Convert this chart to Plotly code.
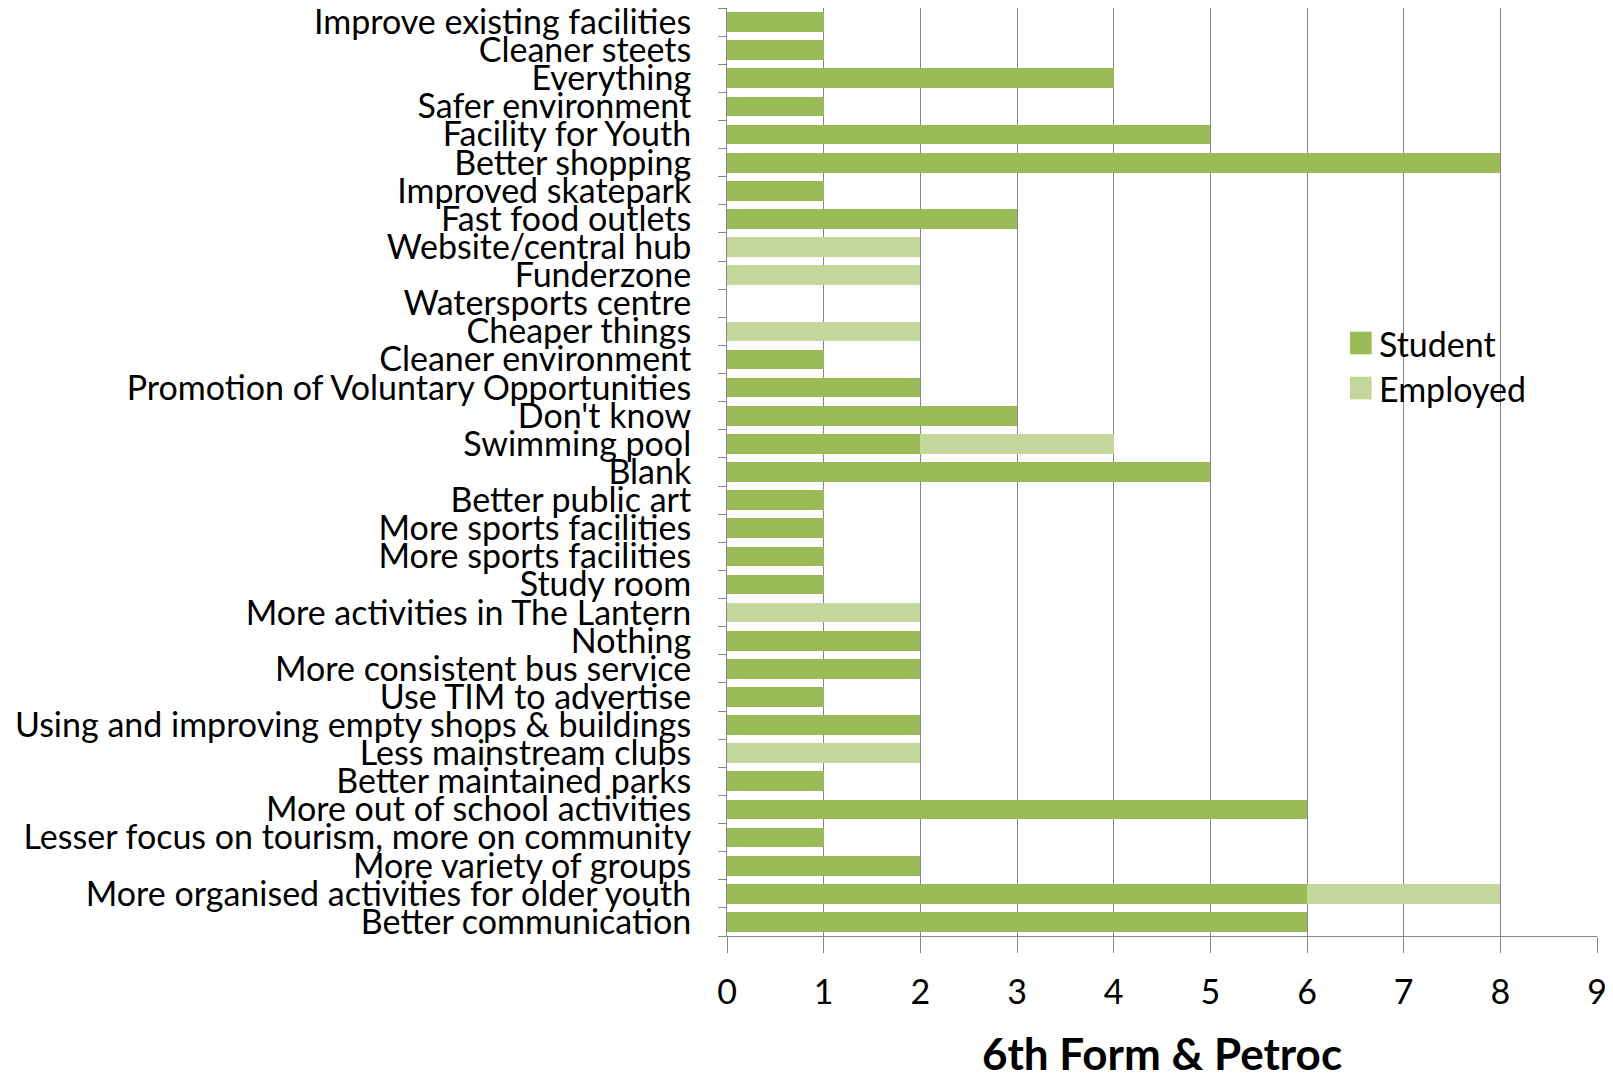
import plotly.graph_objects as go

categories = [
    "Improve existing facilities", "Cleaner steets", "Everything", "Safer environment",
    "Facility for Youth", "Better shopping", "Improved skatepark", "Fast food outlets",
    "Website/central hub", "Funderzone", "Watersports centre", "Cheaper things",
    "Cleaner environment", "Promotion of Voluntary Opportunities", "Don't know",
    "Swimming pool", "Blank", "Better public art", "More sports facilities",
    "More sports facilities", "Study room", "More activities in The Lantern", "Nothing",
    "More consistent bus service", "Use TIM to advertise",
    "Using and improving empty shops & buildings", "Less mainstream clubs",
    "Better maintained parks", "More out of school activities",
    "Lesser focus on tourism, more on community", "More variety of groups",
    "More organised activities for older youth", "Better communication",
]
student = [1, 1, 4, 1, 5, 8, 1, 3, 0, 0, 0, 0, 1, 2, 3, 2, 5, 1, 1, 1, 1, 0, 2, 2, 1, 2, 0, 1, 6, 1, 2, 6, 6]
employed = [0, 0, 0, 0, 0, 0, 0, 0, 2, 2, 0, 2, 0, 0, 0, 2, 0, 0, 0, 0, 0, 2, 0, 0, 0, 0, 2, 0, 0, 0, 0, 2, 0]
x_ticks = list(range(0, 10))
axis_title = "6th Form & Petroc"
series_names = ["Student", "Employed"]
series_colors = ["#9BBB59", "#C3D69B"]

positions = list(range(len(categories)))

FONT = "Lato"
GRID = "#878787"

fig = go.Figure()
for name, vals, col in zip(series_names, [student, employed], series_colors):
    fig.add_trace(go.Bar(y=positions, x=vals, orientation="h", name=name,
                         marker=dict(color=col, line=dict(width=0)), showlegend=False))

# legend drawn as large swatches (like the original)
legend_y = [0.639, 0.5905]
for name, col, yc in zip(series_names, series_colors, legend_y):
    fig.add_shape(type="rect", xref="paper", yref="paper",
                  x0=0.716, x1=0.741, y0=yc - 0.0122, y1=yc + 0.0122,
                  fillcolor=col, line=dict(width=0))
    fig.add_annotation(xref="paper", yref="paper", x=0.747, y=yc, text=name,
                       xanchor="left", yanchor="middle", showarrow=False,
                       font=dict(size=34, family=FONT, color="black"))

# the page body has an 8px default margin, so the figure is sized to fit the window
fig.update_layout(
    width=1605, height=1071,
    barmode="stack", bargap=0.3,
    paper_bgcolor="white", plot_bgcolor="white",
    margin=dict(l=719, r=16, t=0, b=143),
    font=dict(family=FONT, color="black"),
    showlegend=False,
)
fig.update_xaxes(
    range=[0, 9], tickvals=x_ticks, ticktext=[str(v) for v in x_ticks],
    showgrid=True, gridcolor=GRID, gridwidth=1,
    showline=True, linecolor=GRID, linewidth=1,
    ticks="outside", ticklen=16, tickcolor=GRID,
    tickfont=dict(size=34, family=FONT), ticklabelstandoff=10,
    ticklabeloverflow="allow",
    zeroline=False, automargin=False,
    title=dict(text="<b>" + axis_title + "</b>", font=dict(size=44, family=FONT), standoff=32),
)
fig.update_yaxes(
    range=[len(categories) - 0.5, -0.5],
    tickvals=positions, ticktext=categories,
    ticks="", showgrid=False,
    showline=True, linecolor=GRID, linewidth=1,
    tickfont=dict(size=34, family=FONT), ticklabelstandoff=28,
    ticklabeloverflow="allow",
    minor=dict(tick0=0.5, dtick=1, ticks="outside", ticklen=8, tickcolor=GRID, showgrid=False),
    zeroline=False, automargin=False,
)

fig.write_html("out.html")
